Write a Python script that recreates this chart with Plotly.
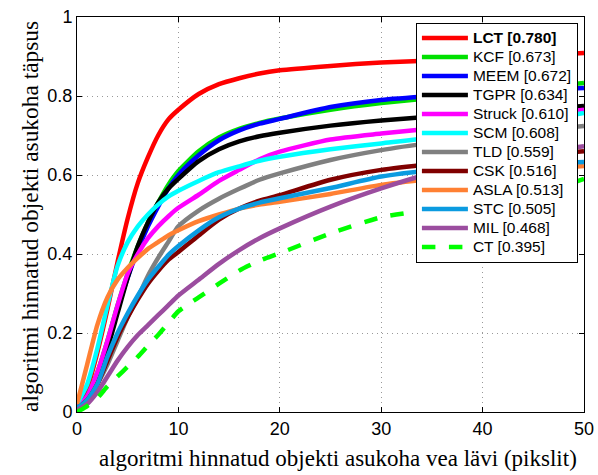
import plotly.graph_objects as go

x_vals = [0, 1, 2, 3, 4, 5, 6, 7, 8, 9, 10, 12, 14, 16, 18, 20, 25, 30, 35, 40, 45, 50]

names = ["<b>LCT [0.780]</b>", "KCF [0.673]", "MEEM [0.672]", "TGPR [0.634]", "Struck [0.610]",
         "SCM [0.608]", "TLD [0.559]", "CSK [0.516]", "ASLA [0.513]", "STC [0.505]",
         "MIL [0.468]", "CT [0.395]"]

lct = [0.02, 0.06, 0.15, 0.26, 0.38, 0.49, 0.58, 0.645, 0.70, 0.74, 0.765, 0.805, 0.83, 0.845, 0.857, 0.865, 0.876, 0.885, 0.89, 0.896, 0.902, 0.909]
kcf = [0.01, 0.04, 0.10, 0.18, 0.27, 0.35, 0.42, 0.48, 0.53, 0.575, 0.61, 0.66, 0.695, 0.717, 0.732, 0.743, 0.765, 0.782, 0.795, 0.808, 0.82, 0.833]
meem = [0.01, 0.04, 0.09, 0.17, 0.26, 0.34, 0.41, 0.47, 0.52, 0.565, 0.60, 0.65, 0.688, 0.713, 0.73, 0.742, 0.772, 0.79, 0.80, 0.808, 0.815, 0.82]
tgpr = [0.01, 0.03, 0.08, 0.16, 0.25, 0.34, 0.42, 0.48, 0.53, 0.565, 0.59, 0.635, 0.665, 0.685, 0.698, 0.707, 0.725, 0.738, 0.748, 0.757, 0.766, 0.775]
struck = [0.01, 0.04, 0.10, 0.18, 0.27, 0.35, 0.40, 0.44, 0.47, 0.495, 0.517, 0.55, 0.585, 0.613, 0.64, 0.659, 0.69, 0.705, 0.718, 0.735, 0.75, 0.765]
scm = [0.02, 0.07, 0.16, 0.27, 0.37, 0.43, 0.47, 0.50, 0.525, 0.545, 0.56, 0.585, 0.607, 0.622, 0.636, 0.646, 0.665, 0.68, 0.695, 0.715, 0.735, 0.757]
tld = [0.01, 0.03, 0.07, 0.12, 0.18, 0.24, 0.29, 0.345, 0.39, 0.43, 0.47, 0.51, 0.54, 0.565, 0.588, 0.604, 0.638, 0.663, 0.682, 0.698, 0.712, 0.724]
csk = [0.01, 0.03, 0.07, 0.13, 0.19, 0.24, 0.285, 0.325, 0.357, 0.385, 0.405, 0.447, 0.487, 0.515, 0.535, 0.549, 0.588, 0.613, 0.628, 0.64, 0.65, 0.66]
asla = [0.02, 0.12, 0.22, 0.29, 0.335, 0.365, 0.39, 0.413, 0.43, 0.447, 0.46, 0.483, 0.50, 0.515, 0.525, 0.532, 0.552, 0.575, 0.59, 0.603, 0.613, 0.623]
stc = [0.01, 0.03, 0.07, 0.14, 0.20, 0.25, 0.295, 0.335, 0.367, 0.397, 0.42, 0.46, 0.493, 0.515, 0.53, 0.541, 0.567, 0.596, 0.612, 0.622, 0.628, 0.633]
mil = [0.005, 0.02, 0.05, 0.09, 0.13, 0.165, 0.195, 0.22, 0.245, 0.27, 0.295, 0.335, 0.375, 0.41, 0.44, 0.465, 0.52, 0.566, 0.605, 0.635, 0.657, 0.673]
ct = [0.0, 0.015, 0.035, 0.065, 0.09, 0.115, 0.14, 0.168, 0.195, 0.225, 0.255, 0.29, 0.325, 0.358, 0.383, 0.402, 0.452, 0.493, 0.513, 0.53, 0.55, 0.59]

series = [lct, kcf, meem, tgpr, struck, scm, tld, csk, asla, stc, mil, ct]
colors = ["#ff0000", "#00e000", "#0000ff", "#000000", "#ff00ff", "#00ffff", "#808080",
          "#800000", "#ff8033", "#0b9be0", "#9b4d9f", "#00ff00"]
dashes = ["solid"] * 11 + ["dash"]

x_ticks = [0, 10, 20, 30, 40, 50]
y_ticks = [0, 0.2, 0.4, 0.6, 0.8, 1]
y_tick_text = ["0", "0.2", "0.4", "0.6", "0.8", "1"]

fig = go.Figure()
for name, ys, c, d in zip(names, series, colors, dashes):
    fig.add_trace(go.Scatter(x=x_vals, y=ys, mode="lines",
                             name='<span style="font-size:15.5px">' + name + '</span>',
                             line=dict(color=c, width=4.5, dash=d, shape="spline", smoothing=0.6)))

axis_common = dict(showline=True, linecolor="black", linewidth=1, mirror="ticks",
                   ticks="inside", ticklen=5, tickcolor="black", automargin=False,
                   showgrid=True, gridcolor="#999999", griddash="1px,4px", gridwidth=1,
                   zeroline=False, tickfont=dict(family="Liberation Sans, Arial", size=18, color="black"))

fig.update_xaxes(range=[0, 50], tickvals=x_ticks, **axis_common)
fig.update_yaxes(range=[0, 1], tickvals=y_ticks, ticktext=y_tick_text, **axis_common)

fig.update_layout(
    width=598, height=475,
    margin=dict(l=77, r=14, t=17, b=63),
    paper_bgcolor="white", plot_bgcolor="white",
    showlegend=True,
    legend=dict(x=0.988, y=0.986, xanchor="right", yanchor="top",
                bgcolor="white", bordercolor="black", borderwidth=1,
                font=dict(family="Liberation Sans, Arial", size=12.3, color="black"),
                itemwidth=46, tracegroupgap=0),
    annotations=[
        dict(text="algoritmi hinnatud objekti asukoha vea lävi (pikslit)", xref="paper", yref="paper",
             x=0.514, y=-0.082, xanchor="center", yanchor="top", showarrow=False,
             font=dict(family="Liberation Serif, Times New Roman", size=23, color="black")),
        dict(text="algoritmi hinnatud objekti asukoha täpsus", xref="paper", yref="paper",
             x=-0.093, y=0.496, xanchor="center", yanchor="middle", showarrow=False, textangle=-90,
             font=dict(family="Liberation Serif, Times New Roman", size=23.4, color="black")),
    ],
)

fig.write_html("out.html", config={"displayModeBar": False})

with open("out.html", "r", encoding="utf-8") as f:
    html = f.read()
html = html.replace("<head>", "<head><style>html,body{margin:0;padding:0;}</style>", 1)
with open("out.html", "w", encoding="utf-8") as f:
    f.write(html)
